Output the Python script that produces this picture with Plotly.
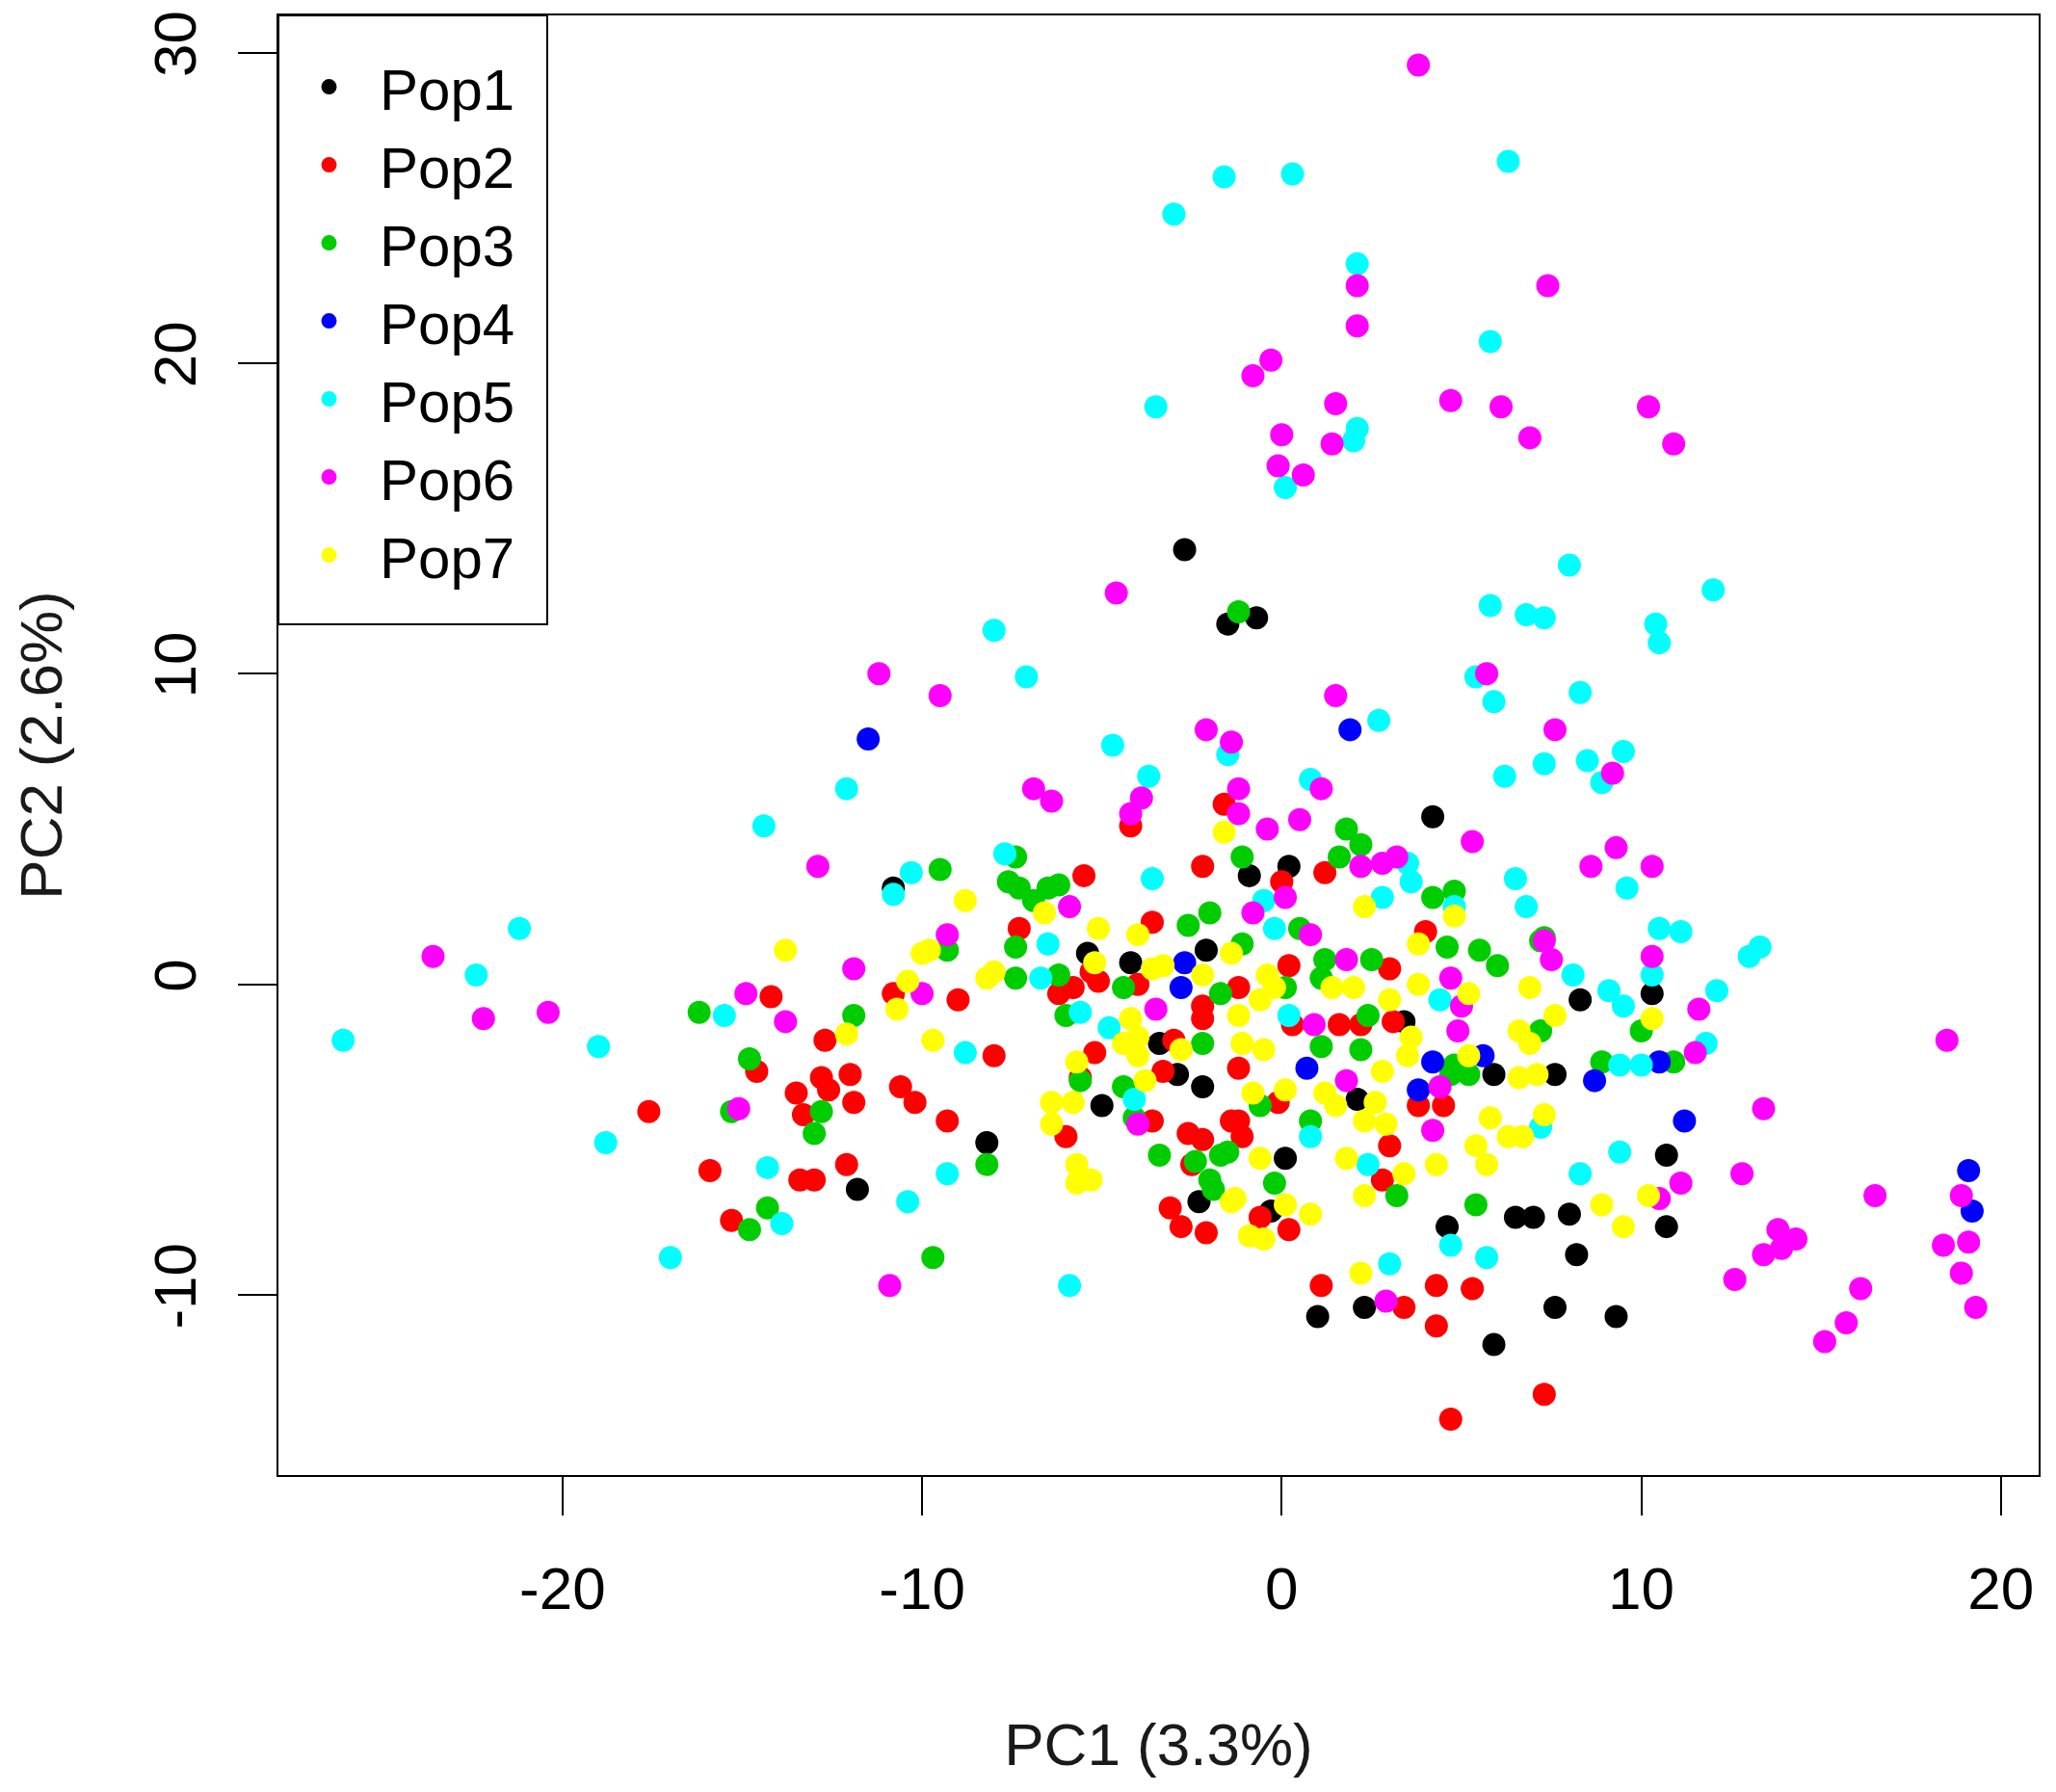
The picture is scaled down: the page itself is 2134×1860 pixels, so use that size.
import plotly.graph_objects as go

# PCA scores, one pair of lists per population
pop1_x = [-2.7, -1.5, -0.7, 4.2, -0.9, 0.2, -2.1, -4.2, -5.4, -3.4, -2.9, -2.2, 3.4, 2.1, 5.9, 7.6, 8.3, 10.3, 10.7,
          10.7, 4.6, 6.5, 7.0, 8.0, 8.2, 7.6, 9.3, 1.0, 2.3, 5.9, 0.1, -0.3, -2.3, -5.0, -8.2, -11.8, -10.8]
pop1_y = [14.0, 11.6, 11.8, 5.4, 3.5, 3.8, 1.1, 0.7, 1.0, -1.9, -2.9, -3.3, -1.2, -3.7, -2.9, -2.9, -0.5, -0.3, -5.5,
          -7.8, -7.8, -7.5, -7.5, -7.4, -8.7, -10.4, -10.7, -10.7, -10.4, -11.6, -5.6, -7.3, -7.0, -3.9, -5.1, -6.6, 3.1]

pop2_x = [-17.6, -15.9, -15.3, -14.6, -14.2, -13.5, -13.3, -13.4, -13.0, -12.8, -12.6, -12.0, -11.9, -12.1, -12.7,
          -10.6, -10.2, -9.3, -10.8, -9.0, -8.0, -7.3, -5.5, -4.2, -6.0, -6.2, -5.3, -5.1, -5.2, -3.3, -3.0, -2.2,
          -2.2, -3.6, -2.2, -1.6, -4.0, -5.8, -3.6, -2.6, -2.2, -2.5, -3.1, -2.8, -2.1, -5.6, -1.4, 1.2, 0.0, 4.0,
          3.0, 0.2, -1.2, 1.6, 2.2, 3.1, -1.2, 0.3, -0.1, 3.0, -1.2, -1.1, 2.8, 0.2, -0.6, 3.8, 4.5, 1.1, 3.4, 4.3,
          5.3, 4.3, 4.7, 7.3]
pop2_y = [-4.1, -6.0, -7.6, -2.8, -0.4, -3.5, -4.2, -6.3, -6.3, -3.0, -3.4, -2.9, -3.8, -5.8, -1.8,
          -3.3, -3.8, -4.4, -0.3, -0.5, -2.3, 1.8, 3.5, 5.1, -4.9, -0.3, 0.4, 0.1, -2.2, -2.8, -1.8, -1.1,
          -0.7, 2.0, 3.8, 5.8, 0.0, -0.1, -4.4, -4.8, -5.0, -5.8, -7.2, -7.8, -8.0, -3.0, -4.4, 3.6, 3.3, 1.7,
          0.5, 0.6, -0.1, -1.3, -1.3, -1.2, -2.7, -1.3, -3.8, -5.2, -4.4, -4.9, -6.3, -7.9, -7.5, -3.9, -3.9, -9.7,
          -10.4, -9.7, -9.8, -11.0, -14.0, -13.2]

pop3_x = [-16.2, -11.9, -14.8, -12.8, -13.0, -15.3, -14.8, -14.3, -8.2, -9.7, -4.4, -4.1, -3.4, -2.4, -2.0, -1.7,
          -1.9, -5.6, -7.4, -9.5, -7.6, -7.3, -6.5, -6.2, -6.9, -7.4, -2.6, -2.0, -9.3, -1.7, -7.4, -6.2, -6.0,
          -4.4, -2.2, 1.8, 2.2, 1.6, -1.1, 4.2, 4.8, 0.5, -1.1, 7.2, 4.6, 5.5, 6.0, 1.2, 2.5, 0.1, 1.1, 2.4, 1.1,
          2.2, 4.8, 7.2, -0.6, 0.8, -1.5, -0.2, 3.2, 4.7, 5.2, 10.0, 8.9, 10.9, 7.3, 5.4, -1.2]
pop3_y = [-0.9, -1.0, -2.4, -4.1, -4.8, -4.1, -7.9, -7.2, -5.8, -8.8, -3.3, -4.3, -5.5, -5.7, -6.3, -5.5,
          -6.6, -3.1, 4.1, 3.7, 3.3, 3.1, 3.1, 3.2, 2.7, 1.2, 1.9, 2.3, 1.1, -0.3, 0.2, 0.3, -1.0,
          -0.1, -1.9, 5.0, 4.5, 4.1, 4.1, 2.8, 3.0, 1.8, 1.3, 1.4, 1.2, 1.1, 0.6, 0.8, 0.8, -0.1, 0.2, -1.0, -2.0,
          -2.1, -2.6, -1.5, -3.9, -4.4, -5.4, -6.4, -6.8, -2.9, -2.9, -1.5, -2.5, -2.5, 1.5, -7.1, 12.0]

pop4_x = [-11.5, 1.9, 19.1, 19.2, 11.2, 10.5, 8.7, 5.6, 4.2, -2.7, -2.8, 0.7, 3.8]
pop4_y = [7.9, 8.2, -6.0, -7.3, -4.4, -2.5, -3.1, -2.3, -2.5, 0.7, -0.1, -2.7, -3.4]

pop5_x = [-26.1, -22.4, -21.2, -19.0, -18.8, -17.0, -15.5, -14.4, -14.3, -13.9, -12.1, -10.8, -10.3, -10.4, -9.3,
          -8.8, -8.0, -7.7, -7.1, -6.7, -6.5, -5.9, -5.6, -4.8, -4.7, -4.1, -3.7, -3.6, -3.5, -3.0, -1.6, 0.3,
          -1.5, -0.5, -0.2, 0.2, 0.8, 0.8, 0.1, 2.1, 2.1, 2.0, 2.7, 2.8, 3.5, 3.6, 2.4, 3.0, 4.4, 4.7, 5.4, 5.9,
          5.8, 5.8, 6.3, 6.2, 6.5, 6.8, 6.8, 7.3, 7.2, 7.3, 5.7, 8.0, 8.3, 8.3, 8.5, 8.9, 9.5, 9.6, 8.1, 9.1,
          9.5, 9.4, 10.0, 9.4, 10.4, 10.5, 10.5, 11.1, 10.3, 12.0, 12.1, 11.8, 13.0, 13.3, 4.8]
pop5_y = [-1.8, 0.3, 1.8, -2.0, -5.1, -8.8, -1.0, 5.1, -5.9, -7.7, 6.3, 2.9, 3.6, -7.0, -6.1,
          -2.2, 11.4, 4.2, 9.9, 0.2, 1.3, -9.7, -0.9, -1.4, 7.7, -3.7, 6.7, 3.4, 18.6, 24.8, 26.0, 26.1,
          7.4, 2.7, 1.8, -1.0, -4.9, 6.6, 16.0, 23.2, 17.9, 17.5, 8.5, 2.8, 3.9, 3.3, -5.8, -9.0, -0.5, -8.4,
          9.9, 9.1, 20.7, 12.2, 26.5, 6.7, 3.4, 2.5, 11.9, 11.8, -4.6, 7.1, -8.8, 13.5, 9.4, -6.1, 7.2, 6.5,
          7.5, 3.1, 0.3, -0.2, -0.7, -2.6, -2.6, -5.4, 11.6, 11.0, 1.8, 1.7, 0.3, 12.7, -0.2, -1.9, 0.9, 1.2,
          2.5]

pop6_x = [-23.6, -22.2, -20.4, -15.1, -14.9, -13.8, -12.9, -11.9, -11.2, -10.9, -10.0, -9.5, -9.3, -6.9, -6.4,
          -5.9, -4.6, -3.9, -4.2, -4.0, -3.5, -2.1, -1.4, -1.2, -1.2, 0.5, -0.4, 1.1, -0.3, -0.8, 0.0, -0.1, 0.6,
          1.4, 1.5, 2.1, 2.1, 1.5, -0.8, 0.1, 0.8, 1.8, 1.8, 0.9, 2.2, 2.8, 3.2, 2.9, 3.8, 4.4, 4.2, 4.7, 5.0,
          4.9, 4.7, 5.3, 5.7, 6.1, 6.9, 7.4, 7.6, 7.3, 7.5, 8.6, 9.3, 10.3, 9.2, 10.2, 10.3, 10.9, 10.5, 11.1,
          11.6, 11.5, 12.8, 12.6, 13.4, 13.4, 13.8, 13.9, 14.3, 15.1, 15.7, 16.1, 16.5, 18.5, 18.4, 18.9, 19.1,
          18.9, 19.3]
pop6_y = [0.9, -1.1, -0.9, -4.0, -0.3, -1.2, 3.8, 0.5, 10.0, -9.7, -0.3, 9.3, 1.6, 6.3, 5.9,
          2.5, 12.6, 6.0, 5.5, -4.5, -0.8, 8.2, 7.8, 6.3, 5.5, 5.3, 5.0, 6.3, 20.1, 19.6, 17.7, 16.7, 16.4,
          17.4, 18.7, 22.5, 21.2, 9.3, 2.3, 2.8, 1.6, 0.8, -3.1, -1.3, 3.8, 3.9, 4.1, -10.2, 29.6, -3.3, -4.7, 0.2,
          -0.7, -1.5, 18.8, 4.6, 10.0, 18.6, 17.6, 22.5, 8.2, 1.4, 0.8, 3.8, 4.4, 3.8, 6.8, 18.6, 0.9, 17.4, -6.9,
          -6.4, -0.8, -2.2, -6.1, -9.5, -4.0, -8.7, -7.9, -8.5, -8.2, -11.5, -10.9, -9.8, -6.8, -1.8, -8.4, -6.8,
          -8.3, -9.3, -10.4]

pop7_x = [-13.8, -12.1, -10.7, -10.4, -10.0, -9.8, -9.7, -8.8, -8.2, -8.0, -6.6, -5.1, -4.0, -5.2, -3.6, -3.3,
          -2.2, -4.2, -4.0, -4.4, -2.8, -5.7, -4.0, -1.6, -6.4, -5.8, -6.4, -5.7, -5.3, -5.7, -3.8, -1.4, -1.4,
          -0.4, -0.2, 1.4, 2.0, 2.3, 4.8, 3.8, 3.8, 6.9, -1.2, -0.6, 3.0, 3.6, 3.5, -0.5, -1.1, 6.6, 6.9, 5.2,
          2.8, 5.2, -0.8, 0.1, 1.2, 1.5, 2.6, 2.9, 2.3, -0.6, 1.8, 3.4, 2.3, 0.1, -1.3, 0.8, -0.9, -0.5, 4.3,
          5.8, 5.4, 5.7, 6.3, 6.7, 6.6, 7.1, 2.2, 7.6, 10.3, 10.2, 8.9, 9.5, 7.3]
pop7_y = [1.1, -1.6, -0.8, 0.1, 1.0, 1.1, -1.8, 2.7, 0.2, 0.4, 2.3, 1.8, 1.6, 0.7, 0.5, 0.6,
          0.3, -1.1, -1.7, -1.9, -2.1, -2.5, -2.3, 4.9, -3.8, -3.8, -4.5, -5.8, -6.3, -6.4, -3.1, -7.0, 1.0,
          0.3, -0.1, -0.1, -0.1, 2.5, 2.2, 1.3, 0.0, -0.1, -1.0, -0.5, -0.5, -1.7, -2.3, -2.1, -1.9, -1.5, -1.9, -2.3,
          -2.8, -0.3, -3.5, -3.4, -3.5, -3.9, -3.8, -4.5, -4.4, -5.6, -5.6, -6.1, -6.8, -7.1, -6.9, -7.4, -8.1, -8.2,
          -5.8, -4.3, -5.2, -5.8, -4.9, -4.9, -3.0, -2.9, -9.3, -1.0, -1.1, -6.8, -7.1, -7.8, -4.2]

pop_names = ["Pop1", "Pop2", "Pop3", "Pop4", "Pop5", "Pop6", "Pop7"]
pop_colors = ["#000000", "#FF0000", "#00CD00", "#0000FF", "#00FFFF", "#FF00FF", "#FFFF00"]
pop_xs = [pop1_x, pop2_x, pop3_x, pop4_x, pop5_x, pop6_x, pop7_x]
pop_ys = [pop1_y, pop2_y, pop3_y, pop4_y, pop5_y, pop6_y, pop7_y]

# tick labels as R prints them (plain hyphen for the minus sign)
x_ticks = [-20, -10, 0, 10, 20]
x_ticktext = ["-20", "-10", "0", "10", "20"]
y_ticks = [-10, 0, 10, 20, 30]
y_ticktext = ["-10", "0", "10", "20", "30"]

font = "Liberation Sans, Arial, sans-serif"

fig = go.Figure()
for name, col, xs, ys in zip(pop_names, pop_colors, pop_xs, pop_ys):
    fig.add_trace(go.Scatter(
        x=xs, y=ys, mode="markers", name=name,
        marker=dict(color=col, size=24, line=dict(width=0)),
    ))

axis_common = dict(
    showgrid=False, zeroline=False, automargin=False,
    showline=True, linecolor="black", linewidth=2, mirror=True,
    ticks="outside", ticklen=40, tickwidth=2, tickcolor="black",
    tickfont=dict(family=font, size=62, color="black"),
)

# R-style legend frame (plotly's own legend box is a bit too tight)
fig.add_shape(type="rect", xref="paper", yref="paper",
              x0=0, x1=0.1527, y0=0.5828, y1=1,
              line=dict(color="black", width=2), fillcolor="rgba(0,0,0,0)", layer="above")

# the page body adds ~8px, margins are trimmed for that
fig.update_layout(
    width=2134, height=1860,
    margin=dict(l=281, r=26, t=8, b=337),
    paper_bgcolor="white", plot_bgcolor="white",
    font=dict(family=font, size=62, color="black"),
    xaxis=dict(range=[-27.9, 21.05], tickvals=x_ticks, ticktext=x_ticktext, ticklabelstandoff=23,
               title=dict(text="PC1 (3.3%)", font=dict(family=font, size=62, color="#1a1a1a"), standoff=106),
               **axis_common),
    yaxis=dict(range=[-15.8, 31.2], tickvals=y_ticks, ticktext=y_ticktext, tickangle=-90, ticklabelstandoff=19,
               title=dict(text="PC2 (2.6%)", font=dict(family=font, size=62, color="#1a1a1a"), standoff=110),
               **axis_common),
    legend=dict(x=0, y=1, xanchor="left", yanchor="top",
                borderwidth=0, bgcolor="rgba(255,255,255,0)",
                font=dict(family=font, size=60, color="black"),
                title=dict(text="\u00a0", font=dict(size=22)),
                itemwidth=95, tracegroupgap=0),
    showlegend=True,
)

fig.write_html("out.html")
